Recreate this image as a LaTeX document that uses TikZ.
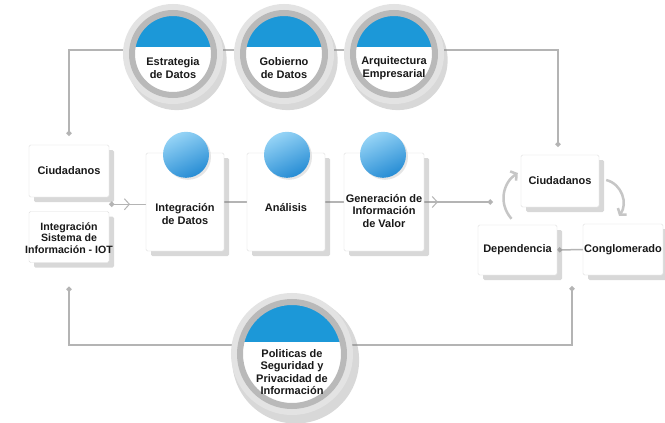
\documentclass[tikz,border=0pt]{standalone}
\usepackage{fontspec}
\setmainfont{Liberation Sans}
\usetikzlibrary{calc,shadows,arrows.meta,decorations.markings}

\definecolor{capblue}{RGB}{28,152,216}
\definecolor{balllight}{RGB}{150,212,246}
\definecolor{balldark}{RGB}{38,140,212}
\definecolor{linegray}{RGB}{180,180,180}
\pgfdeclarelayer{bg}
\pgfsetlayers{bg,main}

\begin{document}
\begin{tikzpicture}[
		x=1pt, y=-1pt,
		every node/.style={font=\fontsize{11}{12.5}\selectfont\bfseries, align=center, text=black!90},
		box/.style={rectangle, draw=gray!25, fill=white, rounded corners=1.5pt, inner sep=0pt,
			drop shadow={shadow xshift=5pt, shadow yshift=-5pt, opacity=0.3}},
		disc/.style n args={2}{circle, fill=white, draw=gray!55, line width=6pt, inner sep=0pt, minimum size=#1,
			drop shadow={shadow scale=1.22, shadow xshift=3pt, shadow yshift=-5pt, opacity=0.3},
			preaction={draw=gray!22, line width=18pt},
			path picture={\fill[capblue] (path picture bounding box.north west) rectangle ($(path picture bounding box.east)+(0,-#2)$);}},
		ball/.style={circle, top color=balllight, bottom color=balldark, shading angle=25, minimum size=46, inner sep=0pt,
			drop shadow={shadow xshift=2pt, shadow yshift=-2pt, opacity=0.2}},
		link/.style={draw=linegray, line width=1.5pt},
		dotends/.style={{Circle[length=5pt]}-{Circle[length=5pt]}},
		midbarb/.style={decoration={markings, mark=at position #1 with {\arrow{Straight Barb[length=5pt,width=11pt,line width=1pt]}}}, postaction={decorate}},
		cyc/.style={draw=gray!45, line width=2.5pt, -{Straight Barb[length=4pt,width=11pt]}}]

		\useasboundingbox (0,0) rectangle (665,423);

		% discos superiores
		\node[disc={82}{7}] (estr) at (173,54) {};
		\node[disc={82}{7}] (gob) at (284,54) {};
		\node[disc={82}{7}] (arq) at (394,54) {};
		\node (estrT) at ($ (estr) + (0,14) $) {Estrategia\\de Datos};
		\node (gobT) at ($ (gob) + (0,14) $) {Gobierno\\de Datos};
		\node (arqT) at ($ (arq) + (0,14) $) {Arquitectura\\Empresarial};

		% entradas
		\node[box, minimum width=80, minimum height=52] (ciud1) at (69,171) {Ciudadanos};
		\node[box, minimum width=80, minimum height=51] (iot) at (69,237) {};
		\node[font=\fontsize{10.6}{11.3}\selectfont\bfseries] (iotT) at ($ (iot) + (0,1) $) {Integración\\Sistema de\\Información - IOT};

		% proceso
		\node[box, minimum width=78, minimum height=98] (integ) at (185,202) {};
		\node[box, minimum width=78, minimum height=98] (anal) at (286,202) {};
		\node[box, minimum width=80, minimum height=98] (gen) at (384,202) {};
		\node[ball] (integB) at ($ (integ.north) + (1,2) $) {};
		\node[ball] (analB) at ($ (anal.north) + (1,2) $) {};
		\node[ball] (genB) at ($ (gen.north) + (-1,2) $) {};
		\node (integT) at ($ (integ) + (0,12) $) {Integración\\de Datos};
		\node (analT) at ($ (anal) + (0,6) $) {Análisis};
		\node (genT) at ($ (gen) + (0,9) $) {Generación de\\Información\\de Valor};

		% ciclo
		\node[box, minimum width=78, minimum height=52] (ciud2) at (560,181) {Ciudadanos};
		\node[box, minimum width=79, minimum height=50] (dep) at (517.5,250) {Dependencia};
		\node[box, minimum width=80, minimum height=51] (cong) at (623,249.5) {Conglomerado};

		% disco inferior
		\node[disc={104}{12}] (pol) at (292,354) {};
		\node (polT) at ($ (pol) + (0,18) $) {Politicas de\\Seguridad y\\Privacidad de\\Información};

		\begin{pgfonlayer}{bg}
		\fill[white] (0,0) rectangle (665,423);
		\draw[link, dotends] ($ (ciud1.north) + (0,-9) $) |- ($ (estr) + (0,-4) $) -| ($ (ciud2.north) + (-2,-8) $);
		\draw[link, dotends] ($ (iot.south) + (0,24) $) |- ($ (pol) + (0,-9) $) -| ($ (dep.south east)!0.5!(cong.south west) + (2,11) $);
		\coordinate (inL) at ($ (ciud1.south east)!0.5!(iot.north east) $);
		\draw[link, midbarb=0.57, {Circle[length=5pt]}-] (inL) -- (inL -| integ.west);
		\draw[link] (integ) -- (anal);
		\draw[link] (anal) -- (gen);
		\draw[link, midbarb=0.2, -{Circle[length=5pt]}] (gen) -- ($ (gen -| dep.west) + (15,0) $);
		\draw[link, -{Circle[length=5pt]}] (cong) -- (dep);
		\end{pgfonlayer}

		\draw[cyc] ($ (dep.north) + (-6,-6) $) .. controls ($ (dep.north) + (-20,-22) $) and ($ (ciud2.west) + (-17,1) $) .. ($ (ciud2.west) + (-3,-8) $);
		\draw[cyc] ($ (ciud2.east) + (7,-1) $) .. controls ($ (ciud2.east) + (23,3) $) and ($ (cong.north) + (5,-20) $) .. ($ (cong.north) + (-4,-8) $);

\end{tikzpicture}
\end{document}
